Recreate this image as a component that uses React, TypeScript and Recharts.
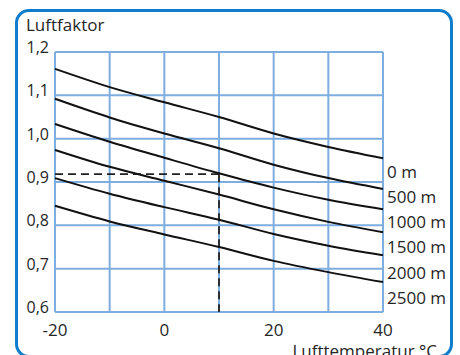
import {
  ComposedChart,
  Line,
  XAxis,
  YAxis,
  CartesianGrid,
  ReferenceLine,
  ReferenceDot,
} from "recharts";

// Luftfaktor over air temperature, one curve per altitude
const TEMPS = [-20, -10, 0, 10, 20, 30, 40];
const ALT_0 = [1.161, 1.119, 1.084, 1.05, 1.012, 0.981, 0.955];
const ALT_500 = [1.092, 1.049, 1.012, 0.978, 0.94, 0.909, 0.884];
const ALT_1000 = [1.034, 0.993, 0.956, 0.92, 0.887, 0.859, 0.837];
const ALT_1500 = [0.974, 0.935, 0.903, 0.871, 0.837, 0.808, 0.784];
const ALT_2000 = [0.909, 0.873, 0.842, 0.813, 0.78, 0.753, 0.731];
const ALT_2500 = [0.845, 0.809, 0.779, 0.75, 0.718, 0.692, 0.669];

const SERIES_KEYS = ["a0", "a500", "a1000", "a1500", "a2000", "a2500"];
const SERIES_NAMES = ["0 m", "500 m", "1000 m", "1500 m", "2000 m", "2500 m"];
const NAME_Y = [0.923, 0.865, 0.808, 0.75, 0.69, 0.632];

const X_TICKS = [-20, -10, 0, 10, 20, 30, 40];
const X_LABELED = [-20, 0, 20, 40];
const Y_TICKS = [0.6, 0.7, 0.8, 0.9, 1.0, 1.1, 1.2];

// example reading: 10 °C at 1000 m
const MARK_T = 10;
const MARK_V = 0.918;

const data = TEMPS.map((t, i) => ({
  t,
  a0: ALT_0[i],
  a500: ALT_500[i],
  a1000: ALT_1000[i],
  a1500: ALT_1500[i],
  a2000: ALT_2000[i],
  a2500: ALT_2500[i],
}));

const FONT = "'Open Sans', sans-serif";
const TEXT = "#262626";
const GRID = "#7eaddf";

function XTick({ x, y, payload }: any) {
  if (!X_LABELED.includes(payload.value)) return null;
  return (
    <text x={x} y={y} dy={24} textAnchor="middle" fontSize={17} fill={TEXT} fontFamily={FONT}>
      {payload.value}
    </text>
  );
}

function YTick({ x, y, payload }: any) {
  return (
    <text x={x - 6} y={y} dy={1} textAnchor="end" fontSize={16} fill={TEXT} fontFamily={FONT}>
      {payload.value.toFixed(1).replace(".", ",")}
    </text>
  );
}

export default function App() {
  return (
    <div style={{ position: "absolute", left: 0, top: 0, width: 460, height: 355, background: "#fff", overflow: "hidden" }}>
      <div
        style={{
          position: "absolute",
          left: 15,
          top: 9,
          width: 432,
          height: 343,
          border: "3px solid #0f7dcc",
          borderRadius: 14,
        }}
      />
      <div
        style={{
          position: "absolute",
          left: 26,
          top: 16,
          fontFamily: FONT,
          fontSize: 17,
          lineHeight: "17px",
          color: TEXT,
        }}
      >
        Luftfaktor
      </div>
      <div
        style={{
          position: "absolute",
          right: 23,
          top: 342,
          fontFamily: FONT,
          fontSize: 17,
          lineHeight: "17px",
          color: TEXT,
          whiteSpace: "nowrap",
        }}
      >
        Lufttemperatur °C
      </div>
      <div style={{ position: "absolute", left: 0, top: 0 }}>
        <ComposedChart width={460} height={355} data={data} margin={{ top: 52, right: 77, bottom: 0, left: 0 }}>
          <CartesianGrid stroke={GRID} strokeWidth={2} />
          <XAxis
            dataKey="t"
            type="number"
            domain={[-20, 40]}
            ticks={X_TICKS}
            axisLine={false}
            tickLine={false}
            tickSize={0}
            tickMargin={0}
            height={43}
            tick={<XTick />}
            interval={0}
          />
          <YAxis
            type="number"
            domain={[0.6, 1.2]}
            ticks={Y_TICKS}
            axisLine={false}
            tickLine={false}
            tickSize={0}
            tickMargin={0}
            width={55}
            tick={<YTick />}
            interval={0}
          />
          <ReferenceLine
            segment={[{ x: -20, y: MARK_V }, { x: MARK_T, y: MARK_V }]}
            stroke="#222"
            strokeWidth={1.8}
            strokeDasharray="8 5"
          />
          <ReferenceLine
            segment={[{ x: MARK_T, y: MARK_V }, { x: MARK_T, y: 0.6 }]}
            stroke="#222"
            strokeWidth={1.8}
            strokeDasharray="8 5"
          />
          {SERIES_KEYS.map((k) => (
            <Line
              key={k}
              type="monotone"
              dataKey={k}
              stroke="#111"
              strokeWidth={2}
              dot={false}
              activeDot={false}
              isAnimationActive={false}
            />
          ))}
          {SERIES_NAMES.map((n, i) => (
            <ReferenceDot
              key={n}
              x={40}
              y={NAME_Y[i]}
              r={0}
              fill="none"
              stroke="none"
              label={{ value: n, position: "right", offset: 4, fontSize: 17, fill: TEXT, fontFamily: FONT }}
            />
          ))}
        </ComposedChart>
      </div>
    </div>
  );
}
